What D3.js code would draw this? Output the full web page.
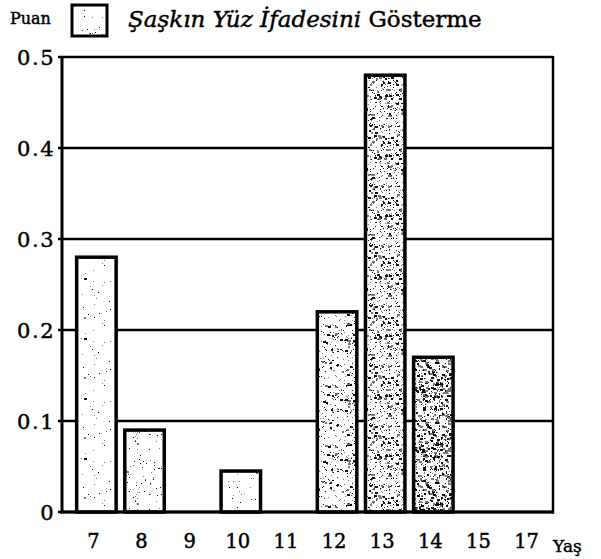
<!DOCTYPE html>
<html>
<head>
<meta charset="utf-8">
<script src="https://cdn.jsdelivr.net/npm/d3@7"></script>
<style>
  body { margin: 0; background: #fff; }
  text { fill: #000; stroke: #000; stroke-width: 0.45px; }
</style>
</head>
<body>
<svg id="chart" width="601" height="559"></svg>
<script>
// values
var ages = ["7", "8", "9", "10", "11", "12", "13", "14", "15", "17"];
var scores = [0.28, 0.09, 0, 0.045, 0, 0.22, 0.48, 0.17, 0, 0];
var yTicks = [0, 0.1, 0.2, 0.3, 0.4, 0.5];
var yTickLabels = ["0", "0.1", "0.2", "0.3", "0.4", "0.5"];
// speckle density per bar (print texture only)
var speckle = [35, 70, 0, 40, 0, 210, 320, 430, 0, 0];

(function () {
  var svg = d3.select("#chart");
  var pLeft = 62, pRight = 553, pTop = 57, pBottom = 512;

  var x = d3.scaleBand().domain(ages).range([65, 555]).padding(0.18);
  var y = d3.scaleLinear().domain([0, 0.5]).range([pBottom, pTop]);

  // simple seeded generator for the dot texture
  var seed = 7;
  function rnd() {
    seed = (seed * 16807) % 2147483647;
    return (seed - 1) / 2147483646;
  }

  var defs = svg.append("defs");
  function makePattern(id, n) {
    var p = defs.append("pattern").attr("id", id)
      .attr("patternUnits", "userSpaceOnUse")
      .attr("width", 44).attr("height", 60);
    p.append("rect").attr("width", 44).attr("height", 60).attr("fill", "#fff");
    for (var i = 0; i < n; i++) {
      var big = rnd() < n / 1200;
      p.append("rect")
        .attr("x", Math.floor(rnd() * 44))
        .attr("y", Math.floor(rnd() * 60))
        .attr("width", big ? 2 + Math.floor(rnd() * 2) : 1)
        .attr("height", big ? 2 : 1)
        .attr("fill", rnd() < 0.55 ? "#111" : "#777");
    }
  }
  speckle.forEach(function (n, i) { if (n > 0) makePattern("sp" + i, n); });
  makePattern("spLegend", 40);

  // grid lines
  svg.append("g").selectAll("line").data(yTicks).join("line")
    .attr("x1", pLeft - 4).attr("x2", pRight)
    .attr("y1", function (d) { return y(d); })
    .attr("y2", function (d) { return y(d); })
    .attr("stroke", "#000").attr("stroke-width", 2.5);

  // frame sides
  svg.append("line").attr("x1", pLeft).attr("x2", pLeft).attr("y1", pTop - 1).attr("y2", pBottom + 1.5)
    .attr("stroke", "#000").attr("stroke-width", 3);
  svg.append("line").attr("x1", pRight).attr("x2", pRight).attr("y1", pTop - 1).attr("y2", pBottom + 1.5)
    .attr("stroke", "#000").attr("stroke-width", 2.5);

  // bars
  var bars = ages.map(function (a, i) { return {age: a, v: scores[i], i: i}; })
    .filter(function (d) { return d.v > 0; });
  svg.append("g").selectAll("rect").data(bars).join("rect")
    .attr("x", function (d) { return x(d.age) + 3; })
    .attr("y", function (d) { return y(d.v); })
    .attr("width", x.bandwidth())
    .attr("height", function (d) { return y(0) - y(d.v); })
    .attr("fill", function (d) { return "url(#sp" + d.i + ")"; })
    .attr("stroke", "#000").attr("stroke-width", 3.5);

  // baseline on top of bars
  svg.append("line").attr("x1", pLeft - 1.5).attr("x2", pRight + 1).attr("y1", pBottom).attr("y2", pBottom)
    .attr("stroke", "#000").attr("stroke-width", 3);

  // y axis labels
  var yAxis = d3.axisLeft(y).tickValues(yTicks).tickSize(0).tickPadding(0)
    .tickFormat(function (d, i) { return yTickLabels[i]; });
  var gy = svg.append("g").attr("transform", "translate(55,0)").call(yAxis);
  gy.select(".domain").remove();
  gy.selectAll("text")
    .style("font-family", "'DejaVu Serif', serif")
    .style("font-size", "21px")
    .style("letter-spacing", "1.5px")
    .attr("dy", "0.36em");

  // x axis labels
  var xAxis = d3.axisBottom(x).tickSize(0).tickPadding(0);
  var gx = svg.append("g").attr("transform", "translate(0,548)").call(xAxis);
  gx.select(".domain").remove();
  gx.selectAll("text")
    .attr("dy", 0)
    .style("font-family", "'DejaVu Serif', serif")
    .style("font-size", "19.5px");

  svg.append("text").attr("x", 553).attr("y", 552)
    .style("font-family", "'DejaVu Serif', serif").style("font-size", "17px")
    .text("Yaş");

  // legend
  svg.append("text").attr("x", 10).attr("y", 24)
    .style("font-family", "'DejaVu Serif', serif").style("font-size", "16px")
    .text("Puan");
  svg.append("rect").attr("x", 72).attr("y", 5).attr("width", 35).attr("height", 31)
    .attr("fill", "url(#spLegend)").attr("stroke", "#000").attr("stroke-width", 3);
  var leg = svg.append("text").attr("x", 128).attr("y", 27)
    .style("font-family", "'DejaVu Serif', serif").style("font-size", "23px");
  leg.append("tspan").style("font-style", "italic").text("Şaşkın Yüz İfadesini");
  leg.append("tspan").text(" Gösterme");
})();
</script>
</body>
</html>
